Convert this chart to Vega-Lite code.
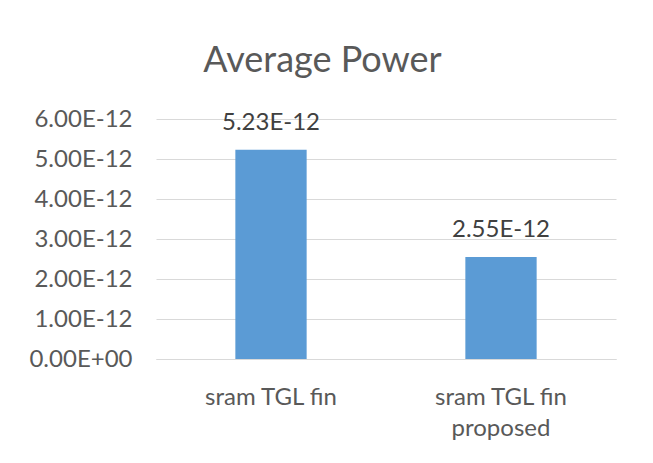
{
  "$schema": "https://vega.github.io/schema/vega-lite/v6.json",
  "width": 460,
  "height": 240,
  "autosize": {"type": "none"},
  "padding": {"left": 156, "top": 119, "right": 37, "bottom": 104},
  "background": "white",
  "title": {
    "text": "Average Power",
    "font": "Lato",
    "fontSize": 36,
    "fontWeight": "normal",
    "color": "#595959",
    "anchor": "middle",
    "frame": "bounds",
    "offset": 27
  },
  "data": {
    "values": [
      {"config": "sram TGL fin", "power": 5.23e-12},
      {"config": "sram TGL fin proposed", "power": 2.55e-12}
    ]
  },
  "transform": [
    {"calculate": "upper(format(datum.power, '.2e'))", "as": "label"}
  ],
  "encoding": {
    "x": {
      "field": "config",
      "type": "nominal",
      "sort": null,
      "scale": {"paddingInner": 0.69, "paddingOuter": 0.345},
      "axis": {
        "title": null,
        "labelAngle": 0,
        "labelFont": "Lato",
        "labelFontSize": 24,
        "labelColor": "#595959",
        "labelPadding": 26,
        "labelLineHeight": 31,
        "labelExpr": "datum.value == 'sram TGL fin proposed' ? ['sram TGL fin', 'proposed'] : datum.value",
        "ticks": false,
        "domain": true,
        "domainColor": "#d9d9d9",
        "domainWidth": 1,
        "grid": false
      }
    },
    "y": {
      "field": "power",
      "type": "quantitative",
      "scale": {"domain": [0, 6e-12], "nice": false},
      "axis": {
        "title": null,
        "values": [0, 1e-12, 2e-12, 3e-12, 4e-12, 5e-12, 6e-12],
        "labelExpr": "datum.value == 0 ? '0.00E+00' : upper(format(datum.value, '.2e'))",
        "labelFont": "Lato",
        "labelFontSize": 24,
        "labelColor": "#595959",
        "labelPadding": 24,
        "ticks": false,
        "domain": false,
        "grid": true,
        "gridColor": "#d9d9d9",
        "gridWidth": 1
      }
    }
  },
  "layer": [
    {"mark": {"type": "bar", "color": "#5b9bd5"}},
    {
      "mark": {
        "type": "text",
        "font": "Lato",
        "fontSize": 24,
        "color": "#404040",
        "baseline": "alphabetic",
        "dy": -20
      },
      "encoding": {"text": {"field": "label"}}
    }
  ],
  "config": {"view": {"stroke": null}}
}
